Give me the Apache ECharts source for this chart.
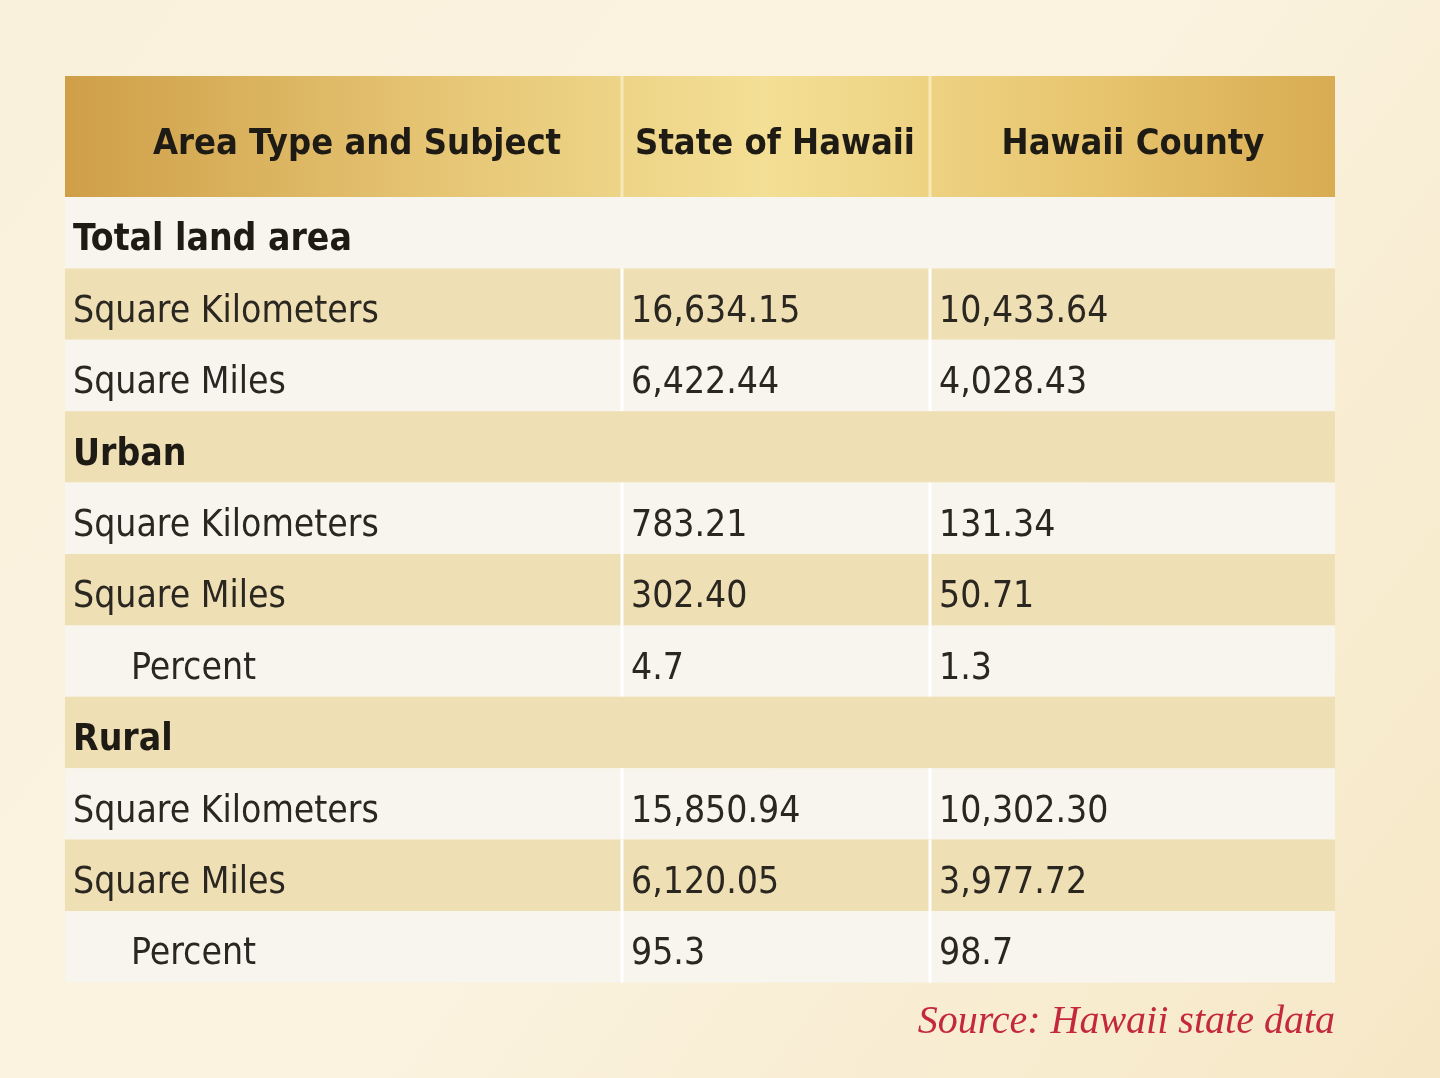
<!DOCTYPE html>
<html><head><meta charset="utf-8">
<script src="https://cdn.jsdelivr.net/npm/echarts@6/dist/echarts.min.js"></script>
<style>html,body{margin:0;padding:0;}#c{width:1440px;height:1078px;}</style>
</head><body><div id="c"></div>
<script>
const headers = ["Area Type and Subject", "State of Hawaii", "Hawaii County"];
const rowLabels = ["Total land area","Square Kilometers","Square Miles","Urban","Square Kilometers","Square Miles","Percent","Rural","Square Kilometers","Square Miles","Percent"];
const rowKind = ["section","item","item","section","item","item","sub","section","item","item","sub"];
const stateValues = ["","16,634.15","6,422.44","","783.21","302.40","4.7","","15,850.94","6,120.05","95.3"];
const countyValues = ["","10,433.64","4,028.43","","131.34","50.71","1.3","","10,302.30","3,977.72","98.7"];
const sourceText = "Source: Hawaii state data";

const colEdges = [65, 622, 930, 1335];
const headerCenters = [357, 775, 1133];
const headerTop = 76, headerBottom = 197, rowH = 71.4;
const font = "'Liberation Sans Narrow','DejaVu Sans Condensed','Roboto Condensed',sans-serif";

const data = [];
for (let c = 0; c < 3; c++) data.push([c, -1]);
for (let r = 0; r < rowLabels.length; r++) data.push([0, r]);

function renderItem(params, api) {
  const c = api.value(0), r = api.value(1);
  const x0 = colEdges[c], x1 = colEdges[c+1];
  let y0, y1;
  if (r < 0) { y0 = headerTop; y1 = headerBottom; } else { y0 = headerBottom + r*rowH; y1 = y0 + rowH; }
  const p0 = api.coord([x0, y0]), p1 = api.coord([colEdges[3], y1]);
  const p1c = api.coord([x1, y1]);
  const children = [];
  if (r < 0) {
    const L = api.coord([colEdges[0],0])[0], R = api.coord([colEdges[3],0])[0];
    children.push({type:'rect', shape:{x:p0[0], y:p0[1], width:p1c[0]-p0[0], height:p1c[1]-p0[1]},
      style:{fill: new echarts.graphic.LinearGradient(L,0,R,0,[{offset:0,color:'#cf9f48'},{offset:0.3,color:'#e6c675'},{offset:0.55,color:'#f3df95'},{offset:0.8,color:'#e8c670'},{offset:1,color:'#d8ac52'}], true)}});
    if (c > 0) children.push({type:'rect', shape:{x:p0[0]-1.5, y:p0[1], width:3, height:p1c[1]-p0[1]}, style:{fill:'#f7e8b8'}});
    children.push({type:'text', style:{text:headers[c], x:api.coord([headerCenters[c],0])[0], y:(p0[1]+p1c[1])/2+8, align:'center', verticalAlign:'middle', font:'bold 36px '+font, fill:'#1e1a14'}});
    return {type:'group', children};
  }
  const fill = r % 2 === 0 ? '#f8f5ee' : '#efdfb5';
  const kind = rowKind[r];
  children.push({type:'rect', shape:{x:p0[0], y:p0[1], width:p1[0]-p0[0], height:p1[1]-p0[1]}, style:{fill}});
  const cy = (p0[1]+p1[1])/2 + 8;
  if (kind === 'section') {
    children.push({type:'text', style:{text:rowLabels[r], x:p0[0]+8, y:cy, verticalAlign:'middle', font:'bold 37px '+font, fill:'#1e1a14'}});
  } else {
    for (const e of [colEdges[1], colEdges[2]]) {
      const px = api.coord([e, 0])[0];
      children.push({type:'rect', shape:{x:px-1.5, y:p0[1], width:3, height:p1[1]-p0[1]}, style:{fill:'#ffffff'}});
    }
    children.push({type:'text', style:{text:rowLabels[r], x:p0[0]+(kind==='sub'?66:8), y:cy, verticalAlign:'middle', font:'37px '+font, fill:'#2a2620'}});
    children.push({type:'text', style:{text:stateValues[r], x:api.coord([colEdges[1],0])[0]+9, y:cy, verticalAlign:'middle', font:'37px '+font, fill:'#2a2620'}});
    children.push({type:'text', style:{text:countyValues[r], x:api.coord([colEdges[2],0])[0]+9, y:cy, verticalAlign:'middle', font:'37px '+font, fill:'#2a2620'}});
  }
  return {type:'group', children};
}

const chart = echarts.init(document.getElementById('c'), null, {renderer:'canvas'});
chart.setOption({
  backgroundColor: new echarts.graphic.LinearGradient(0,0,1,1,[{offset:0,color:'#faf1dc'},{offset:0.5,color:'#fbf3e0'},{offset:1,color:'#f6e8c6'}]),
  grid:{left:0,right:0,top:0,bottom:0},
  xAxis:{type:'value', min:0, max:1440, show:false},
  yAxis:{type:'value', min:0, max:1078, inverse:true, show:false},
  series:[{type:'custom', renderItem, data, silent:true, animation:false}],
  graphic:[{type:'text', right:105, top:1002, style:{text:sourceText, font:'italic 40px "Liberation Serif","DejaVu Serif",serif', fill:'#c3283c'}}]
});
</script></body></html>
